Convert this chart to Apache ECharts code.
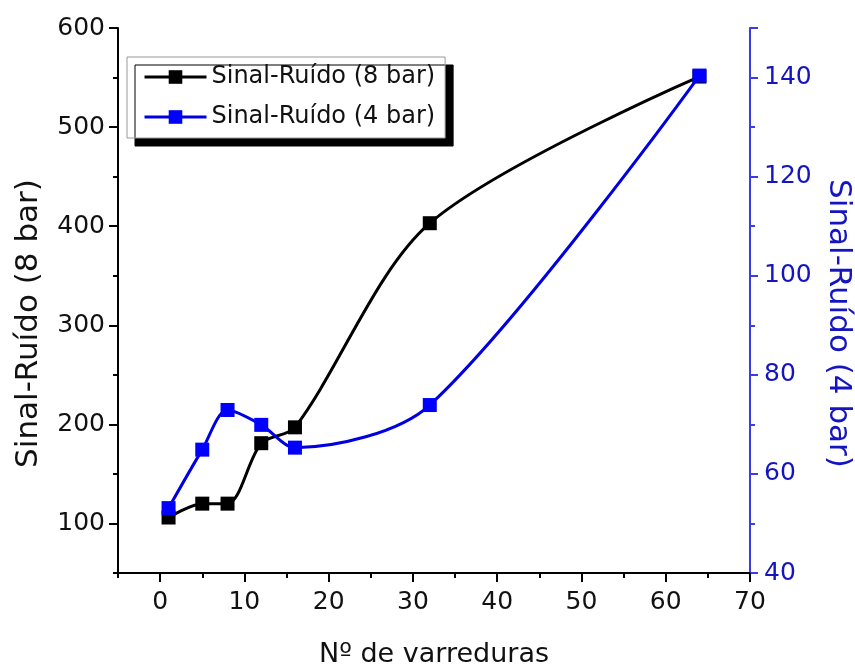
<!DOCTYPE html>
<html>
<head>
<meta charset="utf-8">
<script src="https://cdn.jsdelivr.net/npm/echarts@6/dist/echarts.min.js"></script>
<style>
  html, body { margin: 0; padding: 0; background: #fff; }
  #chart { width: 855px; height: 672px; }
</style>
</head>
<body>
<div id="chart"></div>
<script>
// Nº de varreduras
var scans = [1, 5, 8, 12, 16, 32, 64];
// Sinal-Ruído, left axis
var sn8bar = [106, 120, 120, 181, 197, 403, 551];
// Sinal-Ruído, right axis
var sn4bar = [53.1, 64.9, 72.9, 69.9, 65.3, 73.9, 140.4];

var FONT = "'DejaVu Sans', sans-serif";
var BLUE = '#0000ff';

function pairs(xs, ys) {
    return xs.map(function (x, i) { return [x, ys[i]]; });
}

var myChart = echarts.init(document.getElementById('chart'));

option = {
    backgroundColor: '#fff',
    animation: false,
    textStyle: { fontFamily: FONT },
    grid: [
        // main plot
        { left: 118, top: 28, width: 632, height: 545, outerBoundsMode: 'none', containLabel: false },
        // major x ticks / labels (0..70)
        { left: 160.1, top: 28, width: 589.9, height: 545, outerBoundsMode: 'none', containLabel: false },
        // major left y ticks / labels (100..600)
        { left: 118, top: 28, width: 632, height: 495.5, outerBoundsMode: 'none', containLabel: false }
    ],
    legend: {
        left: 127,
        top: 57,
        orient: 'vertical',
        backgroundColor: '#fff',
        borderColor: '#999',
        borderWidth: 1,
        borderRadius: 0,
        shadowColor: '#000',
        shadowOffsetX: 8,
        shadowOffsetY: 8,
        shadowBlur: 0,
        padding: [8, 10, 9, 16],
        itemWidth: 62,
        itemHeight: 17,
        itemGap: 16,
        lineStyle: { width: 3 },
        textStyle: { fontFamily: FONT, fontSize: 24, color: '#111' },
        data: ['Sinal-Ruído (8 bar)', 'Sinal-Ruído (4 bar)']
    },
    xAxis: [
        {
            gridIndex: 0,
            type: 'value',
            min: -5, max: 70, interval: 5,
            name: 'Nº de varreduras',
            nameLocation: 'middle',
            nameGap: 68,
            nameTextStyle: { fontFamily: FONT, fontSize: 27, color: '#111' },
            axisLine: { show: true, onZero: false, lineStyle: { color: '#000', width: 2 } },
            axisTick: { show: true, length: 5, lineStyle: { color: '#000', width: 2 } },
            axisLabel: { show: false },
            splitLine: { show: false }
        },
        {
            gridIndex: 1,
            type: 'value',
            min: 0, max: 70, interval: 10,
            axisLine: { show: false, onZero: false },
            axisTick: { show: true, length: 9, lineStyle: { color: '#000', width: 2 } },
            axisLabel: { show: true, margin: 17, fontFamily: FONT, fontSize: 25, color: '#111' },
            splitLine: { show: false }
        },
        {
            gridIndex: 2,
            type: 'value',
            min: 0, max: 1,
            show: false
        }
    ],
    yAxis: [
        {
            gridIndex: 0,
            type: 'value',
            position: 'left',
            min: 50, max: 600, interval: 50,
            name: 'Sinal-Ruído (8 bar)',
            nameLocation: 'middle',
            nameGap: 74,
            nameTextStyle: { fontFamily: FONT, fontSize: 31, color: '#111', padding: [0, 46, 0, 0] },
            axisLine: { show: true, onZero: false, lineStyle: { color: '#000', width: 2 } },
            axisTick: { show: true, length: 5, lineStyle: { color: '#000', width: 2 } },
            axisLabel: { show: false },
            splitLine: { show: false }
        },
        {
            gridIndex: 0,
            type: 'value',
            position: 'right',
            min: 40, max: 150, interval: 20,
            name: 'Sinal-Ruído (4 bar)',
            nameLocation: 'middle',
            nameRotate: -90,
            nameGap: 67,
            nameTextStyle: { fontFamily: FONT, fontSize: 31, color: '#1414c0', padding: [0, 0, 0, 46] },
            axisLine: { show: true, onZero: false, lineStyle: { color: '#3a3ae6', width: 2 } },
            axisTick: { show: true, length: 8, lineStyle: { color: '#3a3ae6', width: 2 } },
            minorTick: { show: true, splitNumber: 2, length: 5, lineStyle: { color: '#3a3ae6', width: 2 } },
            axisLabel: {
                show: true, margin: 14, fontFamily: FONT, fontSize: 25, color: '#1414c0',
                formatter: function (v) { return v > 140 ? '' : v; }
            },
            splitLine: { show: false },
            minorSplitLine: { show: false }
        },
        {
            gridIndex: 1,
            type: 'value',
            min: 0, max: 1,
            show: false
        },
        {
            gridIndex: 2,
            type: 'value',
            position: 'left',
            min: 100, max: 600, interval: 100,
            axisLine: { show: false, onZero: false },
            axisTick: { show: true, length: 9, lineStyle: { color: '#000', width: 2 } },
            axisLabel: { show: true, margin: 13, fontFamily: FONT, fontSize: 25, color: '#111' },
            splitLine: { show: false }
        }
    ],
    series: [
        {
            name: 'Sinal-Ruído (8 bar)',
            type: 'line',
            xAxisIndex: 0,
            yAxisIndex: 0,
            smooth: 0.3,
            symbol: 'rect',
            symbolSize: 14,
            itemStyle: { color: '#000' },
            lineStyle: { color: '#000', width: 3 },
            z: 2,
            data: pairs(scans, sn8bar)
        },
        {
            name: 'Sinal-Ruído (4 bar)',
            type: 'line',
            xAxisIndex: 0,
            yAxisIndex: 1,
            smooth: 0.3,
            symbol: 'rect',
            symbolSize: 14,
            itemStyle: { color: BLUE },
            lineStyle: { color: '#0000e0', width: 3 },
            z: 3,
            data: pairs(scans, sn4bar)
        }
    ]
};
myChart.setOption(option);
</script>
</body>
</html>
